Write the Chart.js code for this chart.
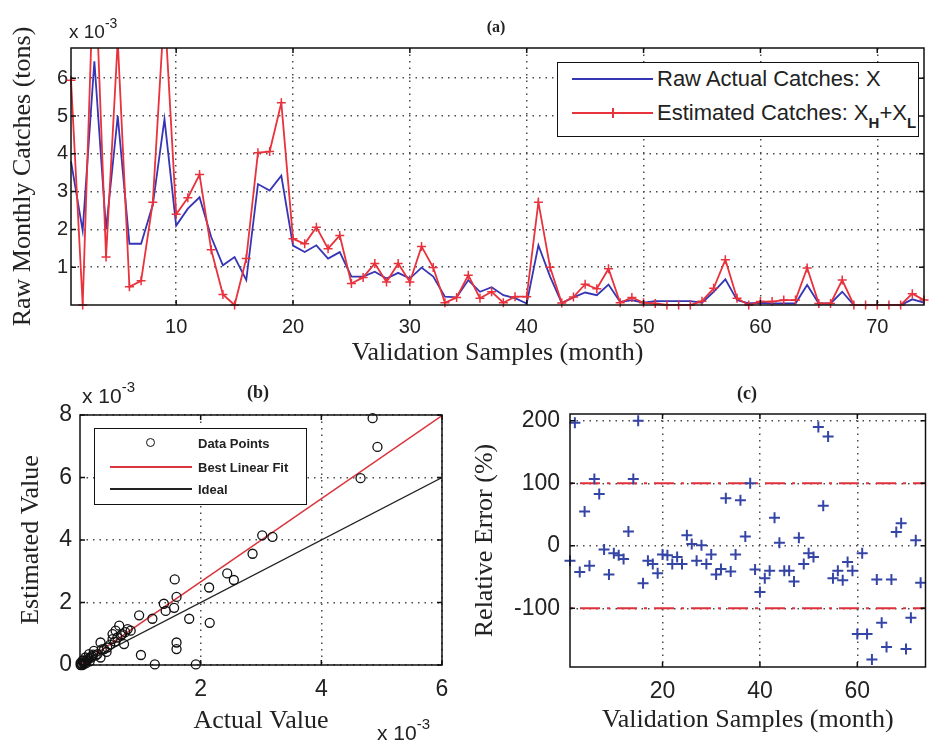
<!DOCTYPE html>
<html><head><meta charset="utf-8">
<script src="https://cdn.jsdelivr.net/npm/chart.js@4.4.1/dist/chart.umd.min.js"></script>
<style>
html,body{margin:0;padding:0;background:#fff;width:930px;height:747px;overflow:hidden;position:relative;}
canvas{position:absolute;}
.t{position:absolute;white-space:nowrap;color:#222;line-height:1;font-family:'Liberation Sans',Arial,sans-serif;}
.ttl{font-family:'Liberation Serif','Times New Roman',serif;font-weight:bold;font-size:16px;transform:translate(-50%,-50%);}
.sup{position:relative;font-size:14px;}
.lgbox{position:absolute;border:1.5px solid #111;background:#fff;box-sizing:border-box;}
.ln{position:absolute;}
</style></head><body>
<canvas id="ca" width="930" height="370" style="left:0;top:0"></canvas>
<canvas id="cb" width="470" height="377" style="left:0;top:370px"></canvas>
<canvas id="cc" width="463" height="377" style="left:470px;top:370px"></canvas>

<div class="t ttl" style="left:496px;top:27px;">(a)</div>
<div class="t ttl" style="left:258px;top:392px;font-size:18px;">(b)</div>
<div class="t ttl" style="left:747px;top:393px;font-size:18px;">(c)</div>

<div class="t" style="left:69px;top:22px;font-size:19px;">x 10<span class="sup" style="top:-10px;">-3</span></div>
<div class="t" style="left:82px;top:385px;font-size:21px;">x 10<span class="sup" style="top:-11px;font-size:15px;">-3</span></div>
<div class="t" style="left:377px;top:722px;font-size:21px;">x 10<span class="sup" style="top:-11px;font-size:15px;">-3</span></div>

<!-- legend (a) -->
<div class="lgbox" style="left:557px;top:62px;width:362px;height:75px;"></div>
<div class="ln" style="left:572px;top:78px;width:81px;height:2px;background:#3535b5;"></div>
<div class="t" style="left:657px;top:79px;font-size:22px;transform:translateY(-50%);">Raw Actual Catches: X</div>
<div class="ln" style="left:572px;top:112px;width:81px;height:2px;background:#e8323c;"></div>
<div class="ln" style="left:612px;top:108px;width:2px;height:10px;background:#e8323c;"></div>
<div class="t" style="left:657px;top:113px;font-size:22px;transform:translateY(-50%);">Estimated Catches: X<span style="font-size:15px;font-weight:bold;position:relative;top:8px;">H</span>+X<span style="font-size:15px;font-weight:bold;position:relative;top:8px;">L</span></div>

<!-- legend (b) -->
<div class="lgbox" style="left:94px;top:428px;width:213px;height:77px;"></div>
<div class="ln" style="left:146px;top:438px;width:9px;height:9px;border:1.3px solid #111;border-radius:50%;box-sizing:border-box;"></div>
<div class="t" style="left:198px;top:443px;font-size:13px;font-weight:bold;transform:translateY(-50%);">Data Points</div>
<div class="ln" style="left:110px;top:466px;width:82px;height:1.5px;background:#d9363e;"></div>
<div class="t" style="left:198px;top:467px;font-size:13px;font-weight:bold;transform:translateY(-50%);">Best Linear Fit</div>
<div class="ln" style="left:110px;top:488px;width:82px;height:1.5px;background:#222;"></div>
<div class="t" style="left:198px;top:489px;font-size:13px;font-weight:bold;transform:translateY(-50%);">Ideal</div>

<script>
// ---------- Panel (a): values in units of 1e-3 tons ----------
const months = [1,2,3,4,5,6,7,8,9,10,11,12,13,14,15,16,17,18,19,20,21,22,23,24,25,26,27,28,29,30,31,32,33,34,35,36,37,38,39,40,41,42,43,44,45,46,47,48,49,50,51,52,53,54,55,56,57,58,59,60,61,62,63,64,65,66,67,68,69,70,71,72,73,74];
const rawActual = [3.8,1.97,6.45,2.0,5.0,1.62,1.62,2.65,4.92,2.1,2.55,2.85,1.8,1.05,1.27,0.66,3.2,3.03,3.42,1.57,1.4,1.58,1.23,1.4,0.75,0.75,0.88,0.7,0.85,0.7,0.99,0.75,0.22,0.2,0.66,0.35,0.47,0.26,0.18,0.04,1.58,0.75,0.05,0.2,0.33,0.26,0.54,0.08,0.13,0.06,0.1,0.1,0.1,0.1,0.06,0.35,0.68,0.13,0.04,0.06,0.04,0.04,0.04,0.53,0.04,0.04,0.35,0,0,0,0,0,0.15,0.06];
const estimated = [5.95,0,9.5,1.27,7.0,0.48,0.64,2.72,7.9,2.4,2.84,3.45,1.46,0.28,0,1.23,4.03,4.06,5.35,1.75,1.62,2.06,1.49,1.84,0.57,0.73,1.1,0.61,1.1,0.61,1.55,0.99,0.06,0.2,0.79,0.18,0.35,0.06,0.22,0.22,2.72,1.0,0.05,0.21,0.55,0.43,0.96,0.06,0.2,0.06,0.04,0,0,0,0.1,0.44,1.2,0.18,0,0.09,0.09,0.13,0.13,0.98,0.04,0.04,0.66,0,0,0,0,0,0.3,0.13];
const aXTicks = [10,20,30,40,50,60,70];
const aYTicks = [1,2,3,4,5,6];

// ---------- Panel (b): values in units of 1e-3 ----------
const scatterActual =    [4.85,4.93,4.65,3.02,3.19,2.86,2.44,2.55,2.14,2.15,1.57,1.6,1.56,1.39,1.42,1.81,1.6,1.6,1.92,1.24,1.01,1.2,0.98,0.79,0.65,0.7,0.54,0.54,0.73,0.4,0.34,0.34,0.23,0.15,0.09,0.04,0.01,0.07,0.12,0.18,0.29,0.45,0.62,0.59,0.84,0.01,0.04,0.02,0.06,0.1,0.14,0.2,0.26,0.05,0.08,0.03,0.16,0.22,0.5,0.68,0.75,0.58,0.36,0.44];
const scatterEstimated = [7.9,6.98,5.98,4.15,4.1,3.56,2.93,2.72,2.48,1.35,2.74,2.18,1.83,1.96,1.73,1.48,0.72,0.51,0.02,0.02,0.32,1.48,1.59,1.15,1.26,0.99,0.99,0.83,0.67,0.51,0.24,0.72,0.45,0.35,0.24,0.13,0.07,0.04,0.15,0.24,0.35,0.56,0.88,1.1,1.1,0.0,0.0,0.02,0.09,0.06,0.2,0.28,0.3,0.15,0.1,0.05,0.12,0.33,0.65,0.95,1.05,0.75,0.5,0.42];
const fitX = [0,6];
const fitY = [0,7.98];
const idealX = [0,6];
const idealY = [0,6];
const bXTicks = [2,4,6];
const bYTicks = [0,2,4,6,8];

// ---------- Panel (c): relative error (%) ----------
const errMonths = [1,2,3,4,5,6,7,8,9,10,11,12,13,14,15,16,17,18,19,20,21,22,23,24,25,26,27,28,29,30,31,32,33,34,35,36,37,38,39,40,41,42,43,44,45,46,47,48,49,50,51,52,53,54,55,56,57,58,59,60,61,62,63,64,65,66,67,68,69,70,71,72,73];
const relError = [-24,197,-42,55,-32,107,83,-6,-46,-12,-15,-21,23,107,200,-60,-24,-29,-44,-14,-15,-29,-18,-29,17,3,-24,1,-29,-14,-46,-37,76,-41,-14,73,15,100,-38,-74,-52,-40,45,5,-40,-40,-57,13,-29,-12,-18,190,64,175,-52,-40,-55,-26,-40,-141,-12,-141,-182,-54,-123,-162,-54,22,36,-165,-115,9,-59];
const limitX = [1,74];
const upperLimit = [100,100];
const lowerLimit = [-100,-100];
const cXTicks = [20,40,60];
const cYTicks = [-100,0,100,200];

// ---------- helpers ----------
Chart.defaults.font.family = "'Liberation Sans', Arial, sans-serif";
Chart.defaults.color = '#222';
const SERIF = "'Liberation Serif','Times New Roman',serif";
const GRID = '#4a4a4a';
const fixedTicks = list => s => { s.ticks = list.map(v => ({value: v})); };
const pts = (xs, ys) => xs.map((x, i) => ({x: x, y: ys[i]}));

const boxPlugin = {
  id: 'box',
  afterDraw(chart, args, opts) {
    const {ctx, chartArea: {left, right, top, bottom}, scales: {x, y}} = chart;
    const L = opts.len || 5;
    ctx.save();
    ctx.strokeStyle = '#111';
    ctx.lineWidth = 1.5;
    ctx.strokeRect(left, top, right - left, bottom - top);
    ctx.beginPath();
    x.ticks.forEach(t => { const p = x.getPixelForValue(t.value);
      ctx.moveTo(p, bottom); ctx.lineTo(p, bottom - L); ctx.moveTo(p, top); ctx.lineTo(p, top + L); });
    y.ticks.forEach(t => { const p = y.getPixelForValue(t.value);
      ctx.moveTo(left, p); ctx.lineTo(left + L, p); ctx.moveTo(right, p); ctx.lineTo(right - L, p); });
    ctx.stroke();
    ctx.restore();
  }
};

function axisOpts(o) {
  return {
    type: 'linear', min: o.min, max: o.max,
    afterBuildTicks: fixedTicks(o.ticks),
    afterFit: o.fit,
    grid: {color: GRID, lineWidth: 1.5, drawTicks: false},
    border: {display: false, dash: [1.5, 5]},
    ticks: {font: {size: o.tsize}, padding: o.tpad, maxRotation: 0, autoSkip: false, color: '#222'},
    title: {display: true, text: o.title, color: '#222', font: {family: SERIF, size: 26}, padding: o.titlePad}
  };
}
const common = {responsive: false, devicePixelRatio: 1, animation: false, events: []};

// ---------- chart (a) ----------
new Chart(document.getElementById('ca'), {
  type: 'line',
  data: {datasets: [
    {label: 'Raw Actual Catches: X', data: pts(months, rawActual), borderColor: '#3535b5', borderWidth: 1.8,
     pointRadius: 0, tension: 0, order: 2, clip: {left: 5, right: 5, top: 0, bottom: 5}},
    {label: 'Estimated Catches: XH+XL', data: pts(months, estimated), borderColor: '#e8323c', borderWidth: 1.8,
     pointStyle: 'cross', pointRadius: 4.5, pointBorderWidth: 1.5, pointBorderColor: '#e8323c',
     tension: 0, order: 1, clip: {left: 5, right: 5, top: 0, bottom: 5}}
  ]},
  options: Object.assign({}, common, {
    layout: {padding: {top: 48, right: 1, left: 0, bottom: 0}},
    plugins: {legend: {display: false}, tooltip: {enabled: false}, box: {len: 5}},
    scales: {
      x: axisOpts({min: 1, max: 74, ticks: aXTicks, fit: s => { s.height = 65; }, tsize: 20, tpad: 10,
        title: 'Validation Samples (month)', titlePad: {top: 0, bottom: 1}}),
      y: axisOpts({min: 0, max: 6.8, ticks: aYTicks, fit: s => { s.width = 71; }, tsize: 20, tpad: 3,
        title: 'Raw Monthly Catches (tons)', titlePad: {top: 8, bottom: 0}})
    }
  }),
  plugins: [boxPlugin]
});

// ---------- chart (b) ----------
new Chart(document.getElementById('cb'), {
  type: 'scatter',
  data: {datasets: [
    {label: 'Data Points', data: pts(scatterActual, scatterEstimated), pointStyle: 'circle', pointRadius: 4.5,
     pointBorderColor: '#111', pointBackgroundColor: 'rgba(0,0,0,0)', pointBorderWidth: 1.3, showLine: false, clip: 6, order: 1},
    {label: 'Best Linear Fit', type: 'line', data: pts(fitX, fitY), borderColor: '#d9363e', borderWidth: 1.5, pointRadius: 0, order: 2},
    {label: 'Ideal', type: 'line', data: pts(idealX, idealY), borderColor: '#222', borderWidth: 1.3, pointRadius: 0, order: 3}
  ]},
  options: Object.assign({}, common, {
    layout: {padding: {top: 45, right: 28, left: 0, bottom: 0}},
    plugins: {legend: {display: false}, tooltip: {enabled: false}, box: {len: 5}},
    scales: {
      x: axisOpts({min: 0, max: 6, ticks: bXTicks, fit: s => { s.height = 82; }, tsize: 23, tpad: 11,
        title: 'Actual Value', titlePad: {top: 0, bottom: 10}}),
      y: axisOpts({min: 0, max: 8, ticks: bYTicks, fit: s => { s.width = 80; }, tsize: 23, tpad: 8,
        title: 'Estimated Value', titlePad: {top: 16, bottom: 0}})
    }
  }),
  plugins: [boxPlugin]
});

// ---------- chart (c) ----------
new Chart(document.getElementById('cc'), {
  type: 'scatter',
  data: {datasets: [
    {label: 'Relative Error', data: pts(errMonths, relError), pointStyle: 'cross', pointRadius: 5.5,
     pointBorderColor: '#3545a5', pointBorderWidth: 2, showLine: false, clip: 6, order: 1},
    {label: '+100%', type: 'line', data: pts(limitX, upperLimit), borderColor: '#e0303c', borderWidth: 2,
     borderDash: [20, 7, 3, 7], borderDashOffset: -10, pointRadius: 0, order: 2},
    {label: '-100%', type: 'line', data: pts(limitX, lowerLimit), borderColor: '#e0303c', borderWidth: 2,
     borderDash: [20, 7, 3, 7], borderDashOffset: -10, pointRadius: 0, order: 2}
  ]},
  options: Object.assign({}, common, {
    layout: {padding: {top: 44, right: 0, left: 0, bottom: 0}},
    plugins: {legend: {display: false}, tooltip: {enabled: false}, box: {len: 5}},
    scales: {
      x: axisOpts({min: 1, max: 74, ticks: cXTicks, fit: s => { s.height = 80; }, tsize: 23, tpad: 11,
        title: 'Validation Samples (month)', titlePad: {top: 0, bottom: 11}}),
      y: axisOpts({min: -194, max: 211, ticks: cYTicks, fit: s => { s.width = 100; }, tsize: 23, tpad: 10,
        title: 'Relative Error (%)', titlePad: {top: 0, bottom: 0}})
    }
  }),
  plugins: [boxPlugin]
});
</script>
</body></html>
